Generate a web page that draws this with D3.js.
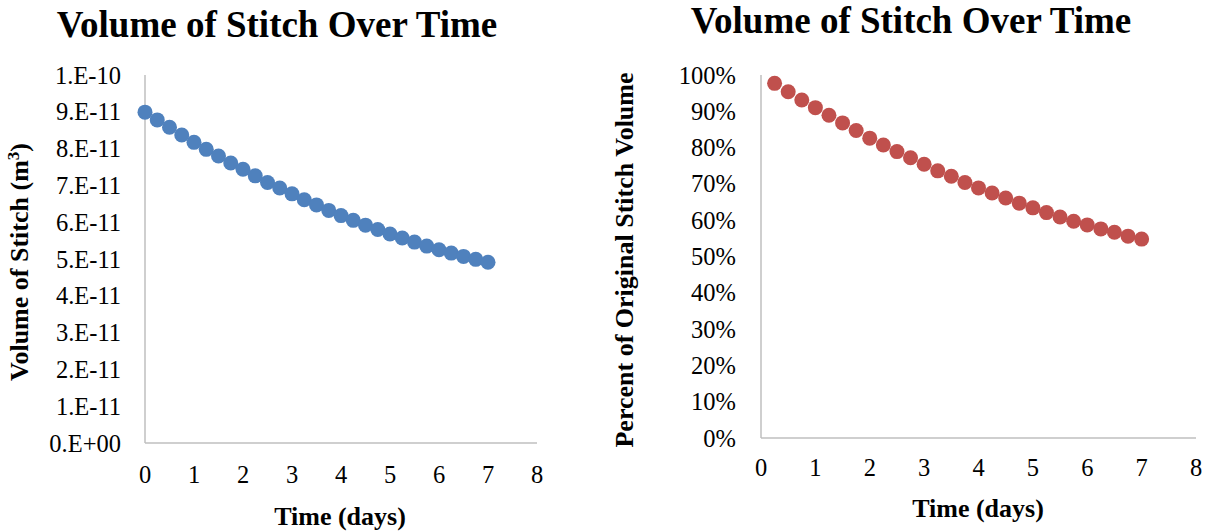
<!DOCTYPE html>
<html>
<head>
<meta charset="utf-8">
<script src="https://cdn.jsdelivr.net/npm/d3@7.9.0/dist/d3.min.js"></script>
<style>
  body { margin: 0; background: #fff; }
  svg { display: block; font-family: 'Liberation Serif', 'Times New Roman', serif; }
</style>
</head>
<body>
<svg id="chart" width="1212" height="531"></svg>
<script>
// time in days
const daysLeft = d3.range(29).map(i => i * 0.25);
const daysRight = d3.range(1, 29).map(i => i * 0.25);

// volume of stitch (x 1e-11 m^3)
const volume = [8.99, 8.78, 8.58, 8.37, 8.17, 7.98, 7.80, 7.61, 7.44, 7.26,
  7.08, 6.93, 6.77, 6.61, 6.47, 6.32, 6.18, 6.05, 5.92, 5.80,
  5.68, 5.57, 5.46, 5.35, 5.25, 5.16, 5.07, 4.99, 4.91];

// percent of original volume
const percent = [97.7, 95.4, 93.1, 91.0, 88.9, 86.8, 84.7, 82.6, 80.7, 78.9,
  77.2, 75.4, 73.6, 72.1, 70.4, 68.9, 67.5, 66.1, 64.7, 63.4,
  62.1, 60.9, 59.7, 58.7, 57.6, 56.7, 55.6, 54.8];

const xTicks = [0, 1, 2, 3, 4, 5, 6, 7, 8];
const volTicks = ['0.E+00', '1.E-11', '2.E-11', '3.E-11', '4.E-11', '5.E-11',
  '6.E-11', '7.E-11', '8.E-11', '9.E-11', '1.E-10'];
const pctTicks = ['0%', '10%', '20%', '30%', '40%', '50%', '60%', '70%', '80%', '90%', '100%'];

const svg = d3.select('#chart');

function drawPanel(opt) {
  const g = svg.append('g');
  const x = d3.scaleLinear().domain([0, 8]).range([opt.left, opt.right]);
  const y = d3.scaleLinear().domain([0, opt.yMax]).range([opt.bottom, opt.top]);

  // axis lines
  g.append('line')
    .attr('x1', x(0)).attr('x2', x(0))
    .attr('y1', y(opt.yMax)).attr('y2', y(0))
    .attr('stroke', '#bfbfbf').attr('stroke-width', 1.5);
  g.append('line')
    .attr('x1', x(0)).attr('x2', x(8))
    .attr('y1', y(0)).attr('y2', y(0))
    .attr('stroke', '#bfbfbf').attr('stroke-width', 1.5);

  // y tick labels
  g.selectAll('.ytick')
    .data(opt.yLabels)
    .join('text')
    .attr('x', opt.yLabelX)
    .attr('y', (d, i) => y(i * opt.yMax / 10))
    .attr('dy', '0.35em')
    .attr('text-anchor', 'end')
    .attr('font-size', 24.5)
    .text(d => d);

  // x tick labels
  g.selectAll('.xtick')
    .data(xTicks)
    .join('text')
    .attr('x', d => x(d))
    .attr('y', opt.xLabelY)
    .attr('text-anchor', 'middle')
    .attr('font-size', 24.5)
    .text(d => d);

  // points
  g.selectAll('circle')
    .data(opt.xs.map((d, i) => [d, opt.ys[i]]))
    .join('circle')
    .attr('cx', d => x(d[0]))
    .attr('cy', d => y(d[1]))
    .attr('r', 7.5)
    .attr('fill', opt.color);

  // titles
  g.append('text')
    .attr('x', opt.titleX).attr('y', opt.titleY)
    .attr('text-anchor', 'middle')
    .attr('font-size', 37).attr('font-weight', 'bold')
    .text('Volume of Stitch Over Time');

  g.append('text')
    .attr('x', opt.xTitleX).attr('y', opt.xTitleY)
    .attr('text-anchor', 'middle')
    .attr('font-size', 26).attr('font-weight', 'bold')
    .text('Time (days)');

  const yt = g.append('text')
    .attr('transform', `translate(${opt.yTitleX},${opt.yTitleY}) rotate(-90)`)
    .attr('text-anchor', 'middle')
    .attr('font-size', 26).attr('font-weight', 'bold');
  opt.yTitle(yt);
}

drawPanel({
  left: 145, right: 537, top: 75, bottom: 443, yMax: 10,
  xs: daysLeft, ys: volume, color: '#4f81bd',
  yLabels: volTicks, yLabelX: 121, xLabelY: 483,
  titleX: 277, titleY: 37, xTitleX: 340, xTitleY: 525, yTitleX: 28, yTitleY: 262,
  yTitle: t => {
    t.append('tspan').text('Volume of Stitch (m');
    t.append('tspan').attr('baseline-shift', 'super').attr('font-size', 17).text('3');
    t.append('tspan').text(')');
  }
});

drawPanel({
  left: 761, right: 1196, top: 75, bottom: 438, yMax: 100,
  xs: daysRight, ys: percent, color: '#c0504d',
  yLabels: pctTicks, yLabelX: 736, xLabelY: 476,
  titleX: 911, titleY: 33, xTitleX: 978, xTitleY: 517, yTitleX: 633, yTitleY: 260,
  yTitle: t => t.text('Percent of Original Stitch Volume')
});
</script>
</body>
</html>
